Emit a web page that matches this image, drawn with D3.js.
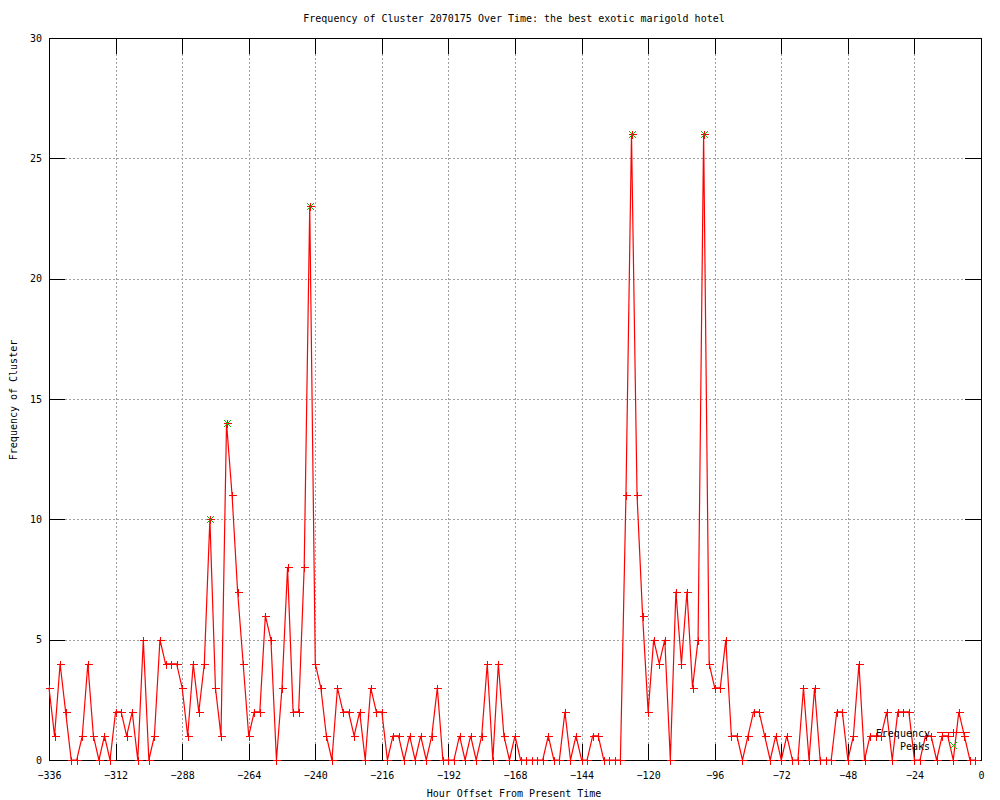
<!DOCTYPE html>
<html>
<head>
<meta charset="utf-8">
<script src="https://cdn.jsdelivr.net/npm/d3@7"></script>
<style>
  body { margin: 0; background: #fff; }
  svg { display: block; }
  text { font-family: "DejaVu Sans Mono", "Liberation Mono", monospace; font-size: 10px; fill: #000; }
</style>
</head>
<body>
<svg id="chart" width="1000" height="800"></svg>
<script>
const hours = [-336,-334,-332,-330,-328,-326,-324,-322,-320,-318,-316,-314,-312,-310,-308,-306,-304,-302,-300,-298,
  -296,-294,-292,-290,-288,-286,-284,-282,-280,-278,-276,-274,-272,-270,-268,-266,-264,-262,-260,-258,
  -256,-254,-252,-250,-248,-246,-244,-242,-240,-238,-236,-234,-232,-230,-228,-226,-224,-222,-220,-218,
  -216,-214,-212,-210,-208,-206,-204,-202,-200,-198,-196,-194,-192,-190,-188,-186,-184,-182,-180,-178,
  -176,-174,-172,-170,-168,-166,-164,-162,-160,-158,-156,-154,-152,-150,-148,-146,-144,-142,-140,-138,
  -136,-134,-132,-130,-128,-126,-124,-122,-120,-118,-116,-114,-112,-110,-108,-106,-104,-102,-100,-98,
  -96,-94,-92,-90,-88,-86,-84,-82,-80,-78,-76,-74,-72,-70,-68,-66,-64,-62,-60,-58,
  -56,-54,-52,-50,-48,-46,-44,-42,-40,-38,-36,-34,-32,-30,-28,-26,-24,-22,-20,-18,
  -16,-14,-12,-10,-8,-6,-4,-2];
const frequency = [3,1,4,2,0,0,1,4,1,0,1,0,2,2,1,2,0,5,0,1,
  5,4,4,4,3,1,4,2,4,10,3,1,14,11,7,4,1,2,2,6,
  5,0,3,8,2,2,8,23,4,3,1,0,3,2,2,1,2,0,3,2,
  2,0,1,1,0,1,0,1,0,1,3,0,0,0,1,0,1,0,1,4,
  0,4,1,0,1,0,0,0,0,0,1,0,0,2,0,1,0,0,1,1,
  0,0,0,0,11,26,11,6,2,5,4,5,0,7,4,7,3,5,26,4,
  3,3,5,1,1,0,1,2,2,1,0,1,0,1,0,0,3,0,3,0,
  0,0,2,2,0,1,4,0,1,1,1,2,0,2,2,2,0,0,1,1,
  0,1,1,0,2,1,0,0];
const peakHours = [-278, -272, -242, -126, -100];
const peakValues = [10, 14, 23, 26, 26];
const xTicks = [-336,-312,-288,-264,-240,-216,-192,-168,-144,-120,-96,-72,-48,-24,0];
const yTicks = [0,5,10,15,20,25,30];

const titleText = "Frequency of Cluster 2070175 Over Time: the best exotic marigold hotel";
const xLabel = "Hour Offset From Present Time";
const yLabel = "Frequency of Cluster";
const seriesNames = ["Frequency", "Peaks"];

const L = 49, R = 981, T = 38, B = 760;
const svg = d3.select("#chart");
const x = d3.scaleLinear().domain([-336, 0]).range([L, R]);
const y = d3.scaleLinear().domain([0, 30]).range([B, T]);

const RED = "#ff0000", GREEN = "#00c000";

// grid
const grid = svg.append("g").attr("shape-rendering", "crispEdges")
  .attr("stroke", "#a0a0a0").attr("stroke-dasharray", "2,2").attr("stroke-width", 1);
grid.selectAll("line.gx").data(xTicks.slice(1, -1)).join("line")
  .attr("x1", d => Math.round(x(d)) + 0.5).attr("x2", d => Math.round(x(d)) + 0.5)
  .attr("y1", T).attr("y2", B);
grid.selectAll("line.gy").data(yTicks.slice(1, -1)).join("line")
  .attr("y1", d => Math.round(y(d)) + 0.5).attr("y2", d => Math.round(y(d)) + 0.5)
  .attr("x1", L).attr("x2", R);

// axes
function styleAxis(g) {
  g.select(".domain").remove();
  g.selectAll(".tick line").attr("stroke", "#000").attr("shape-rendering", "crispEdges");
  g.selectAll("text").attr("font-family", "DejaVu Sans Mono, monospace").attr("font-size", "10px").attr("fill", "#000");
}
svg.append("g").attr("transform", `translate(0,${B})`)
  .call(d3.axisBottom(x).tickValues(xTicks).tickSize(-16).tickPadding(12).tickFormat(d3.format("d")))
  .call(styleAxis);
svg.append("g").attr("transform", `translate(0,${T})`)
  .call(d3.axisTop(x).tickValues(xTicks).tickSize(-16).tickFormat(""))
  .call(styleAxis);
svg.append("g").attr("transform", `translate(${L},0)`)
  .call(d3.axisLeft(y).tickValues(yTicks).tickSize(-16).tickPadding(7).tickFormat(d3.format("d")))
  .call(styleAxis);
svg.append("g").attr("transform", `translate(${R},0)`)
  .call(d3.axisRight(y).tickValues(yTicks).tickSize(-16).tickFormat(""))
  .call(styleAxis);

// border
svg.append("rect").attr("x", L + 0.5).attr("y", T + 0.5).attr("width", R - L).attr("height", B - T)
  .attr("fill", "none").attr("stroke", "#000").attr("shape-rendering", "crispEdges");

// data line
const data = hours.map((h, i) => ({h, v: frequency[i]}));
svg.append("path").datum(data)
  .attr("d", d3.line().x(d => x(d.h)).y(d => y(d.v)))
  .attr("fill", "none").attr("stroke", RED).attr("stroke-width", 1.2);

const plusPath = "M-4,0H4M0,-4V4";
const crossPath = "M-3.5,-3.5L3.5,3.5M-3.5,3.5L3.5,-3.5";
svg.append("g").selectAll("path").data(data).join("path")
  .attr("transform", d => `translate(${Math.round(x(d.h)) + 0.5},${Math.round(y(d.v)) + 0.5})`)
  .attr("d", plusPath).attr("stroke", RED).attr("fill", "none").attr("shape-rendering", "crispEdges");

// peaks
const peaks = peakHours.map((h, i) => ({h, v: peakValues[i]}));
svg.append("g").selectAll("path").data(peaks).join("path")
  .attr("transform", d => `translate(${Math.round(x(d.h)) + 0.5},${Math.round(y(d.v)) + 0.5})`)
  .attr("d", crossPath).attr("stroke", GREEN).attr("fill", "none");

// legend
const lg = svg.append("g");
lg.append("text").attr("x", 930).attr("y", 733).attr("text-anchor", "end")
  .attr("dominant-baseline", "central").text(seriesNames[0]);
lg.append("line").attr("x1", 937).attr("x2", 970).attr("y1", 732.5).attr("y2", 732.5)
  .attr("stroke", RED).attr("shape-rendering", "crispEdges");
lg.append("path").attr("transform", "translate(953.5,732.5)").attr("d", plusPath)
  .attr("stroke", RED).attr("shape-rendering", "crispEdges");
lg.append("text").attr("x", 930).attr("y", 746).attr("text-anchor", "end")
  .attr("dominant-baseline", "central").text(seriesNames[1]);
lg.append("path").attr("transform", "translate(953.5,745.5)").attr("d", crossPath)
  .attr("stroke", GREEN).attr("fill", "none");

// titles
svg.append("text").attr("x", 514).attr("y", 18).attr("text-anchor", "middle")
  .attr("dominant-baseline", "central").text(titleText);
svg.append("text").attr("x", 514).attr("y", 793).attr("text-anchor", "middle")
  .attr("dominant-baseline", "central").text(xLabel);
svg.append("text").attr("transform", "translate(13,400) rotate(-90)").attr("text-anchor", "middle")
  .attr("dominant-baseline", "central").text(yLabel);
</script>
</body>
</html>
